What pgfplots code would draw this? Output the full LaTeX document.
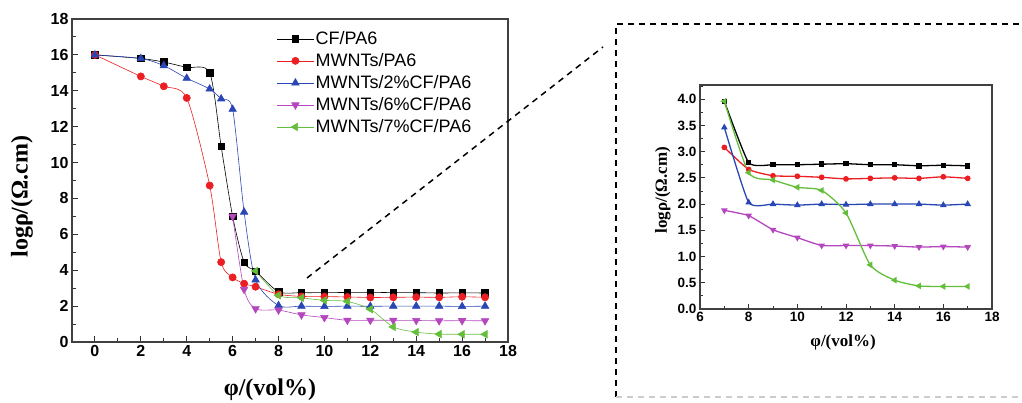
\documentclass[border=0pt]{standalone}
\usepackage{pgfplots}
\pgfplotsset{compat=1.18}
\usepackage{fontspec}
\setmainfont{Liberation Serif}
\newfontfamily\arial{Liberation Sans}
\definecolor{cblack}{RGB}{0,0,0}
\definecolor{cred}{RGB}{235,30,35}
\definecolor{cblue}{RGB}{40,70,180}
\definecolor{cmag}{RGB}{180,70,190}
\definecolor{cgreen}{RGB}{100,190,60}
\begin{document}
\begin{tikzpicture}[x=1pt,y=1pt]
\useasboundingbox (0,0) rectangle (1022,403);
% main axis
\begin{axis}[
  at={(72pt,61pt)}, anchor=south west, scale only axis,
  width=436pt, height=323pt,
  xmin=-1, xmax=18, ymin=0, ymax=18,
  xtick={0,2,...,18}, ytick={0,2,...,18},
  minor xtick={-1,1,...,17}, minor ytick={1,3,...,17},
  tick align=inside, xtick pos=bottom, ytick pos=left,
  major tick length=6pt, minor tick length=3.5pt,
  tick style={line width=0.9pt, black!80},
  axis line style={line width=1.3pt, black!75},
  ticklabel style={font=\arial\bfseries\fontsize{16}{18}\selectfont},
  /pgf/number format/assume math mode=true,
  xlabel={\bfseries φ/(vol\%)},
  ylabel={\bfseries logρ/(Ω.cm)},
  xlabel style={font=\fontsize{24}{28}\selectfont, at={(axis description cs:0.454,-0.149)}, anchor=center},
  ylabel style={font=\fontsize{24}{28}\selectfont, at={(axis description cs:-0.115,0.45)}, anchor=center},
  legend style={draw=none, fill=none, at={(0.47,0.968)}, anchor=north west,
    font=\arial\fontsize{18}{20}\selectfont, row sep=3.5pt, inner sep=0pt,
    nodes={inner sep=2pt}},
  legend cell align=left,
  legend image code/.code={\draw[mark repeat=2,mark phase=2,#1] plot coordinates {(0pt,0pt)(18pt,0pt)(36pt,0pt)};},
  every axis plot/.append style={line width=0.6pt},
]
\addplot[cblack, smooth, tension=0.45, mark=square*, mark size=3.3pt] coordinates {
(0,16)(2,15.8)(3,15.6)(4,15.3)(5,15.0)(5.5,10.9)(6,7.0)(6.5,4.45)(7,3.95)(8,2.8)(9,2.75)(10,2.75)(11,2.76)(12,2.77)(13,2.75)(14,2.75)(15,2.73)(16,2.74)(17,2.73)};
\addlegendentry{CF/PA6}
\addplot[cred, smooth, tension=0.45, mark=*, mark size=3.6pt] coordinates {
(0,16)(2,14.8)(3,14.25)(4,13.6)(5,8.72)(5.5,4.45)(6,3.6)(6.5,3.25)(7,3.08)(8,2.66)(9,2.54)(10,2.53)(11,2.51)(12,2.48)(13,2.49)(14,2.5)(15,2.49)(16,2.52)(17,2.49)};
\addlegendentry{MWNTs/PA6}
\addplot[cblue, smooth, tension=0.45, mark=triangle*, mark size=4.3pt] coordinates {
(0,16)(2,15.8)(3,15.4)(4,14.7)(5,14.1)(5.5,13.55)(6,12.97)(6.5,7.24)(7,3.46)(8,2.03)(9,2.0)(10,1.98)(11,2.0)(12,1.99)(13,2.0)(14,2.0)(15,2.0)(16,1.98)(17,2.0)};
\addlegendentry{MWNTs/2\%CF/PA6}
\addplot[cmag, smooth, tension=0.45, mark=triangle*, mark size=4.3pt, mark options={rotate=180}] coordinates {
(6,7.0)(6.5,2.93)(7,1.85)(8,1.78)(9,1.51)(10,1.36)(11,1.21)(12,1.21)(13,1.21)(14,1.2)(15,1.18)(16,1.19)(17,1.18)};
\addlegendentry{MWNTs/6\%CF/PA6}
\addplot[cgreen, smooth, tension=0.45, mark=triangle*, mark size=4.3pt, mark options={rotate=90}] coordinates {
(7,3.96)(8,2.6)(9,2.46)(10,2.32)(11,2.26)(12,1.83)(13,0.84)(14,0.55)(15,0.44)(16,0.43)(17,0.43)};
\addlegendentry{MWNTs/7\%CF/PA6}
\end{axis}
% inset axis
\begin{axis}[
  at={(700pt,94pt)}, anchor=south west, scale only axis,
  width=292pt, height=224pt,
  xmin=6, xmax=18, ymin=0, ymax=4.27,
  xtick={6,8,...,18}, ytick={0,0.5,...,4},
  minor xtick={7,9,...,17}, minor ytick={0.25,0.75,...,4.25},
  tick align=inside, xtick pos=bottom, ytick pos=left,
  major tick length=5pt, minor tick length=3pt,
  tick style={line width=0.8pt, black!80},
  axis line style={line width=1.2pt, black!75},
  ticklabel style={font=\arial\bfseries\fontsize{13.5}{15}\selectfont},
  yticklabel style={/pgf/number format/.cd, fixed, fixed zerofill, precision=1},
  /pgf/number format/assume math mode=true,
  xlabel={\bfseries φ/(vol\%)},
  ylabel={\bfseries logρ/(Ω.cm)},
  xlabel style={font=\fontsize{17}{20}\selectfont, at={(axis description cs:0.49,-0.147)}, anchor=center},
  ylabel style={font=\fontsize{17}{20}\selectfont, at={(axis description cs:-0.127,0.53)}, anchor=center},
  every axis plot/.append style={line width=1.3pt},
]
\addplot[cblack, smooth, tension=0.3, mark=square*, mark size=2.1pt] coordinates {
(7,3.96)(8,2.79)(9,2.75)(10,2.75)(11,2.76)(12,2.77)(13,2.75)(14,2.75)(15,2.73)(16,2.74)(17,2.73)};
\addplot[cred, smooth, tension=0.3, mark=*, mark size=2.2pt] coordinates {
(7,3.08)(8,2.66)(9,2.54)(10,2.53)(11,2.51)(12,2.48)(13,2.49)(14,2.5)(15,2.49)(16,2.52)(17,2.49)};
\addplot[cblue, smooth, tension=0.3, mark=triangle*, mark size=2.6pt] coordinates {
(7,3.46)(8,2.03)(9,2.0)(10,1.98)(11,2.0)(12,1.99)(13,2.0)(14,2.0)(15,2.0)(16,1.98)(17,2.0)};
\addplot[cmag, smooth, tension=0.3, mark=triangle*, mark size=2.6pt, mark options={rotate=180}] coordinates {
(7,1.88)(8,1.78)(9,1.51)(10,1.36)(11,1.21)(12,1.21)(13,1.21)(14,1.2)(15,1.18)(16,1.19)(17,1.18)};
\addplot[cgreen, smooth, tension=0.4, mark=triangle*, mark size=2.6pt, mark options={rotate=90}] coordinates {
(7,3.96)(8,2.6)(9,2.46)(10,2.32)(11,2.26)(12,1.83)(13,0.84)(14,0.55)(15,0.44)(16,0.43)(17,0.43)};
\end{axis}
% zoom box and connector
\draw[line width=1.4pt, dash pattern=on 6pt off 5pt] (1030,379) -- (616,379) -- (616,6);
\draw[line width=1.2pt, gray!40, dash pattern=on 6pt off 5pt] (616,6) -- (1030,6);
\draw[line width=1.5pt, dash pattern=on 6pt off 5pt] (307,125) -- (603,356);
\end{tikzpicture}
\end{document}
